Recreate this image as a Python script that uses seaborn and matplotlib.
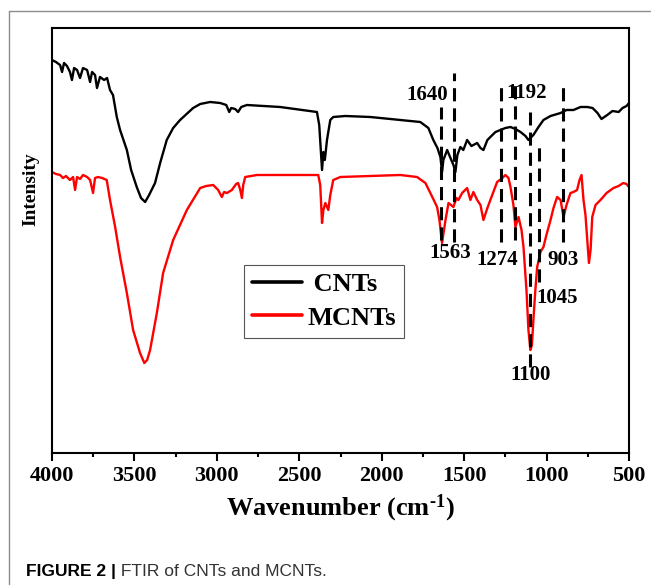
import matplotlib
matplotlib.use("Agg")
import matplotlib.pyplot as plt
import pandas as pd
import seaborn as sns
from matplotlib.lines import Line2D
from matplotlib.ticker import MultipleLocator

# ---- data (wavenumber in cm-1, intensity in arbitrary units) ----
cnt_wn = [4000, 3976, 3951, 3939, 3927, 3909, 3891, 3879, 3866, 3848, 3830, 3812, 3787, 3769,
          3757, 3739, 3727, 3709, 3684, 3666, 3648, 3630, 3607, 3587, 3546, 3520, 3486, 3460,
          3435, 3411, 3375, 3344, 3304, 3265, 3223, 3144, 3101, 3041, 2980, 2943, 2925, 2913,
          2889, 2871, 2852, 2818, 2616, 2393, 2379, 2362, 2354, 2345, 2332, 2312, 2294, 2221,
          2069, 1887, 1766, 1717, 1687, 1662, 1644, 1634, 1626, 1603, 1583, 1565, 1553, 1541,
          1523, 1505, 1482, 1456, 1421, 1401, 1383, 1359, 1341, 1310, 1280, 1250, 1219, 1189,
          1158, 1128, 1110, 1092, 1080, 1049, 1019, 976, 915, 879, 837, 794, 753, 721, 691,
          667, 632, 600, 563, 539, 515, 500]
cnt_int = [393, 391, 388, 381, 390, 387, 381, 373, 385, 383, 375, 385, 383, 371,
           381, 378, 365, 376, 373, 375, 363, 358, 336, 323, 303, 283, 266, 255,
           251, 258, 270, 290, 313, 325, 333, 345, 349, 351, 350, 348, 341, 345,
           344, 341, 346, 348, 346, 341, 328, 283, 301, 293, 313, 333, 336, 337,
           336, 333, 331, 325, 313, 305, 296, 281, 293, 303, 295, 288, 281, 298,
           306, 303, 313, 307, 310, 305, 303, 313, 316, 321, 323, 325, 326, 324,
           321, 317, 313, 316, 318, 326, 333, 337, 340, 343, 343, 346, 346, 345, 340,
           334, 338, 342, 341, 345, 347, 350]

mcnt_wn = [4000, 3976, 3951, 3933, 3915, 3891, 3872, 3860, 3848, 3830, 3812, 3787, 3769, 3751,
           3739, 3721, 3696, 3668, 3648, 3617, 3587, 3546, 3508, 3466, 3440, 3423, 3405, 3364,
           3326, 3265, 3182, 3101, 3065, 3022, 2992, 2970, 2956, 2939, 2909, 2883, 2871, 2858,
           2848, 2840, 2828, 2757, 2385, 2373, 2362, 2354, 2342, 2324, 2312, 2294, 2251, 1887,
           1786, 1735, 1705, 1664, 1650, 1634, 1613, 1595, 1565, 1547, 1535, 1512, 1482, 1462,
           1444, 1421, 1401, 1383, 1359, 1341, 1300, 1268, 1250, 1231, 1219, 1201, 1189, 1170,
           1152, 1140, 1122, 1110, 1098, 1089, 1080, 1068, 1057, 1037, 1019, 1001, 976, 958,
           936, 915, 897, 879, 855, 837, 815, 800, 788, 776, 764, 743, 733, 723, 703, 673,
           636, 594, 563, 535, 515, 500]
mcnt_int = [281, 279, 278, 275, 277, 273, 276, 263, 276, 274, 278, 276, 273, 260,
            275, 276, 275, 273, 253, 226, 196, 160, 123, 100, 90, 93, 103, 140,
            180, 213, 243, 265, 267, 268, 263, 256, 261, 260, 263, 269, 270, 263,
            255, 268, 276, 278, 278, 268, 230, 243, 250, 243, 258, 273, 276, 278,
            276, 270, 260, 246, 233, 210, 233, 250, 246, 255, 253, 260, 265, 253,
            261, 253, 248, 233, 245, 253, 271, 275, 278, 275, 266, 248, 226, 236,
            223, 206, 163, 123, 103, 108, 133, 163, 186, 201, 206, 218, 233, 245,
            256, 253, 236, 248, 260, 261, 263, 273, 278, 253, 238, 190, 203, 236, 248, 253,
            260, 265, 267, 270, 269, 266]

# assigned peaks: dashed marker lines (wavenumber, top, bottom)
peak_wn = [1640, 1563, 1274, 1192, 1100, 1045, 903]
peak_top = [346, 380, 370, 371, 341, 306, 370]
peak_bottom = [213, 211, 211, 213, 86, 171, 211]

# peak labels (text, wavenumber, intensity)
label_text = ["1640", "1192", "1563", "1274", "903", "1045", "1100"]
label_wn = [1725, 1122, 1583, 1300, 897, 935, 1098]
label_int = [358, 360, 200, 193, 193, 155, 78]

legend_labels = [" CNTs", "MCNTs"]

df = pd.concat([
    pd.DataFrame({"Wavenumber": cnt_wn, "Intensity": cnt_int, "Sample": "CNTs"}),
    pd.DataFrame({"Wavenumber": mcnt_wn, "Intensity": mcnt_int, "Sample": "MCNTs"}),
])

sns.set_style("ticks")
plt.rcParams["font.family"] = ["Liberation Serif", "DejaVu Serif"]
plt.rcParams["text.color"] = "black"
plt.rcParams["axes.labelcolor"] = "black"
plt.rcParams["xtick.color"] = "black"
plt.rcParams["axes.edgecolor"] = "black"
plt.rcParams["mathtext.fontset"] = "custom"
plt.rcParams["mathtext.rm"] = "Liberation Serif:bold"
plt.rcParams["mathtext.it"] = "Liberation Serif:bold"
plt.rcParams["mathtext.bf"] = "Liberation Serif:bold"

fig = plt.figure(figsize=(6.51, 5.85), dpi=100)
ax = fig.add_axes([52 / 651, 1 - 453 / 585, 577 / 651, 425 / 585])

sns.lineplot(data=df, x="Wavenumber", y="Intensity", hue="Sample",
             palette=["black", "#ff0000"], estimator=None, sort=False,
             linewidth=1.7, ax=ax)

ax.vlines(peak_wn, peak_bottom, peak_top, colors="black", linewidth=2.2,
          linestyles=(0, (4.3, 2.3)))

for t, x, y in zip(label_text, label_wn, label_int):
    ax.text(x, y, t, ha="center", va="center", fontsize=15, fontweight="bold")

ax.set_xlim(4000, 500)
ax.set_ylim(0, 425)
ax.set_yticks([])
ax.xaxis.set_major_locator(MultipleLocator(500))
ax.xaxis.set_minor_locator(MultipleLocator(250))
ax.tick_params(axis="x", which="major", direction="out", length=5.5, width=1.5,
               labelsize=16, pad=4)
ax.tick_params(axis="x", which="minor", direction="out", length=3, width=1.5)
for lab in ax.get_xticklabels():
    lab.set_fontweight("bold")
for sp in ax.spines.values():
    sp.set_visible(True)
    sp.set_linewidth(1.5)

ax.set_xlabel(r"Wavenumber (cm$^{\text{-}1}$)", fontsize=19, fontweight="bold", labelpad=5)
ax.set_ylabel("Intensity", fontsize=14, fontweight="bold")
ax.yaxis.set_label_coords(-0.022, 0.62)

handles, _ = ax.get_legend_handles_labels()
leg = ax.legend(handles, legend_labels, loc="upper left",
                bbox_to_anchor=(244 / 651, 1 - 265 / 585), borderaxespad=0,
                bbox_transform=fig.transFigure, frameon=True, fancybox=False,
                edgecolor="#555555", framealpha=1, borderpad=0.3, labelspacing=0.37,
                handlelength=1.9, handletextpad=0.2,
                prop={"family": "Liberation Serif", "weight": "bold", "size": 19})
leg.get_frame().set_linewidth(0.8)
for h in leg.legend_handles:
    h.set_linewidth(2.6)

# page frame and caption
fig.add_artist(Line2D([9 / 651, 9 / 651], [0, 1 - 11 / 585], transform=fig.transFigure,
                      color="#8c8c8c", linewidth=1.0))
fig.add_artist(Line2D([9 / 651, 1], [1 - 11 / 585, 1 - 11 / 585], transform=fig.transFigure,
                      color="#8c8c8c", linewidth=1.0))

cap1 = fig.text(26 / 651, 1 - 576 / 585, "FIGURE 2 |", fontsize=12.5, fontweight="bold",
                family="Liberation Sans", color="black", va="baseline")
fig.canvas.draw()
bb = cap1.get_window_extent()
fig.text(bb.x1 / fig.bbox.width, 1 - 576 / 585, " FTIR of CNTs and MCNTs.", fontsize=12.5,
         family="Liberation Sans", color="#333333", va="baseline")

fig.savefig("out.png", dpi=100)
